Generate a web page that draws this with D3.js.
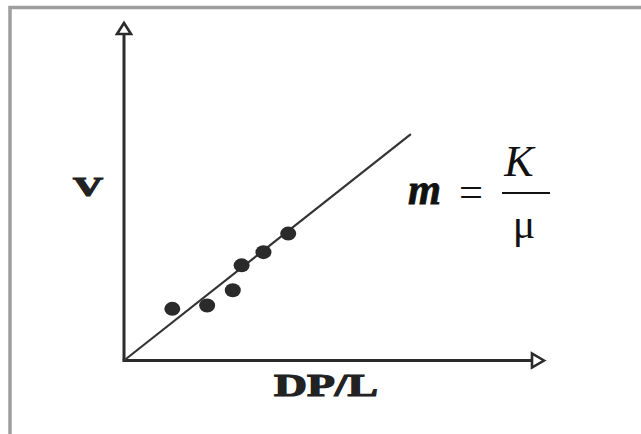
<!DOCTYPE html>
<html lang="en">
<head>
    <meta charset="UTF-8">
    <title>Darcy plot</title>
    <script src="https://d3js.org/d3.v7.min.js"></script>
    <style>
        body{
            margin: 0;
            background: #fff;
        }
        svg{
            display: block;
        }
    </style>
</head>
<body>

<svg id="chart" width="641" height="434"></svg>

<script>

    // measured points (arbitrary units, 0..100 on both axes)
    const dpl = [11.5, 19.8, 25.9, 28.0, 33.2, 39.1];
    const vel = [15.3, 16.3, 20.8, 28.2, 32.1, 37.6];

    // fitted line through the origin
    const slope = 0.982;
    const lineEnd = 68.3;

    const xLabel = "DP/L";
    const yLabel = "V";

    const svg = d3.select("#chart");

    // frame round the picture
    svg.append("rect")
        .attr("x", 10)
        .attr("y", 7.5)
        .attr("width", 700)
        .attr("height", 500)
        .attr("fill", "none")
        .attr("stroke", "#9e9e9e")
        .attr("stroke-width", 3.5);

    const x = d3.scaleLinear().domain([0, 100]).range([124, 544]);
    const y = d3.scaleLinear().domain([0, 100]).range([360.5, 23]);

    const ink = "#2b2b2b";

    // axes
    svg.append("line")
        .attr("x1", x(0)).attr("y1", y(0))
        .attr("x2", x(0)).attr("y2", y(100) + 10)
        .attr("stroke", ink)
        .attr("stroke-width", 3);

    svg.append("line")
        .attr("x1", x(0) - 1.5).attr("y1", y(0))
        .attr("x2", x(100) - 12).attr("y2", y(0))
        .attr("stroke", ink)
        .attr("stroke-width", 3);

    // open arrow heads
    const tipY = [x(0), y(100)];
    svg.append("path")
        .attr("d", `M${tipY[0]},${tipY[1]} L${tipY[0] - 7},${tipY[1] + 11} L${tipY[0] + 7},${tipY[1] + 11} Z`)
        .attr("fill", "#fff")
        .attr("stroke", ink)
        .attr("stroke-width", 2.6)
        .attr("stroke-linejoin", "miter");

    const tipX = [x(100), y(0)];
    svg.append("path")
        .attr("d", `M${tipX[0]},${tipX[1]} L${tipX[0] - 12},${tipX[1] - 7} L${tipX[0] - 12},${tipX[1] + 7} Z`)
        .attr("fill", "#fff")
        .attr("stroke", ink)
        .attr("stroke-width", 2.6)
        .attr("stroke-linejoin", "miter");

    // fitted line
    svg.append("line")
        .attr("x1", x(0)).attr("y1", y(0))
        .attr("x2", x(lineEnd)).attr("y2", y(slope * lineEnd))
        .attr("stroke", "#333")
        .attr("stroke-width", 2.2);

    // data points
    svg.append("g")
        .selectAll("ellipse")
        .data(dpl)
        .enter()
        .append("ellipse")
        .attr("cx", (d, i) => x(d))
        .attr("cy", (d, i) => y(vel[i]))
        .attr("rx", 8)
        .attr("ry", 7)
        .attr("fill", "#2a2a2a");

    // axis labels, heavy serif
    svg.append("text")
        .attr("x", 73)
        .attr("y", 196)
        .attr("textLength", 30)
        .attr("lengthAdjust", "spacingAndGlyphs")
        .style("font-family", "'Liberation Serif', serif")
        .style("font-weight", "bold")
        .style("font-size", "27px")
        .attr("fill", "#222")
        .attr("stroke", "#222")
        .attr("stroke-width", 1.2)
        .text(yLabel);

    svg.append("text")
        .attr("x", 274)
        .attr("y", 396)
        .attr("textLength", 104)
        .attr("lengthAdjust", "spacingAndGlyphs")
        .style("font-family", "'Liberation Serif', serif")
        .style("font-weight", "bold")
        .style("font-size", "31px")
        .attr("fill", "#222")
        .attr("stroke", "#222")
        .attr("stroke-width", 1.2)
        .text(xLabel);

    // formula m = K / mu
    const f = svg.append("g").style("font-family", "'Liberation Serif', serif").attr("fill", "#111");

    f.append("text")
        .attr("x", 408)
        .attr("y", 204)
        .attr("textLength", 33)
        .attr("lengthAdjust", "spacingAndGlyphs")
        .style("font-size", "44px")
        .style("font-style", "italic")
        .style("font-weight", "bold")
        .attr("stroke", "#111")
        .attr("stroke-width", 0.8)
        .text("m");

    f.append("text")
        .attr("x", 459)
        .attr("y", 206)
        .attr("textLength", 24)
        .attr("lengthAdjust", "spacingAndGlyphs")
        .style("font-size", "42px")
        .text("=");

    f.append("text")
        .attr("x", 519)
        .attr("y", 176)
        .attr("text-anchor", "middle")
        .style("font-size", "44px")
        .style("font-style", "italic")
        .text("K");

    f.append("line")
        .attr("x1", 502).attr("x2", 550)
        .attr("y1", 193).attr("y2", 193)
        .attr("stroke", "#111")
        .attr("stroke-width", 1.8);

    f.append("text")
        .attr("x", 524)
        .attr("y", 238)
        .attr("text-anchor", "middle")
        .style("font-size", "42px")
        .text("μ");

</script>
</body>
</html>
